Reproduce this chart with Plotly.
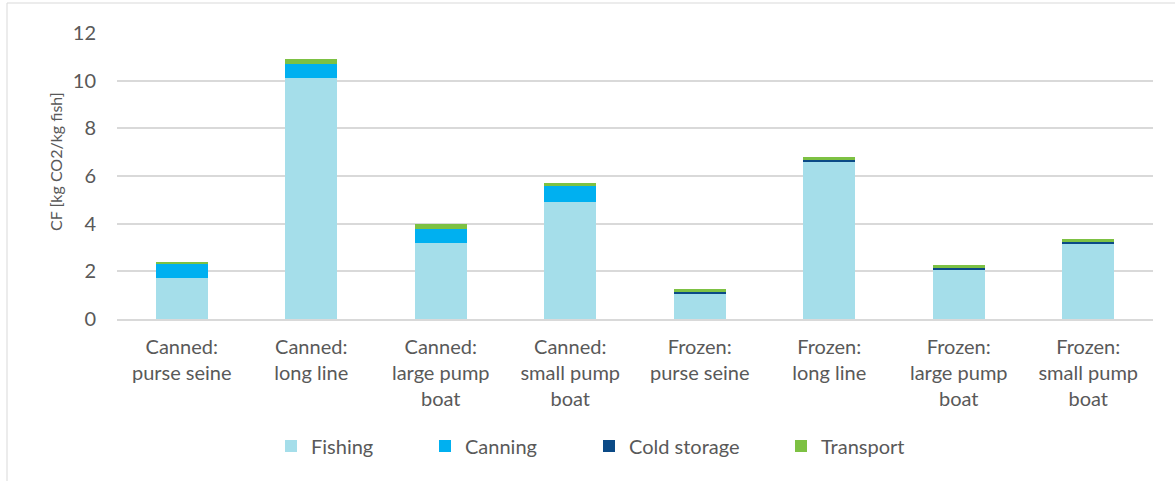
import plotly.graph_objects as go

# Product chains (x categories)
categories = [
    "Canned:<br>purse seine",
    "Canned:<br>long line",
    "Canned:<br>large pump<br>boat",
    "Canned:<br>small pump<br>boat",
    "Frozen:<br>purse seine",
    "Frozen:<br>long line",
    "Frozen:<br>large pump<br>boat",
    "Frozen:<br>small pump<br>boat",
]

# Carbon footprint contributions, kg CO2 per kg fish
fishing = [1.70, 10.10, 3.18, 4.90, 1.09, 6.62, 2.07, 3.18]
canning = [0.64, 0.60, 0.60, 0.68, 0.00, 0.00, 0.00, 0.00]
cold_storage = [0.00, 0.00, 0.00, 0.00, 0.05, 0.05, 0.06, 0.06]
transport = [0.07, 0.20, 0.22, 0.11, 0.11, 0.12, 0.12, 0.12]

y_ticks = [0, 2, 4, 6, 8, 10, 12]

W, H = 1175, 481
FONT = "Lato"
TEXT = "#595959"
GRID = "#D9D9D9"

# name, values, colour, legend id, legend left edge (px)
series = [
    ("Fishing", fishing, "#A5DEEA", "legend", 271),
    ("Canning", canning, "#00B0F0", "legend2", 425),
    ("Cold storage", cold_storage, "#0B4A86", "legend3", 589),
    ("Transport", transport, "#7DC143", "legend4", 781),
]

fig = go.Figure()
for name, vals, color, leg, _ in series:
    fig.add_trace(go.Bar(
        x=categories, y=vals, name=name, legend=leg,
        marker=dict(color=color, line=dict(width=0)),
    ))

layout_legends = {}
for name, vals, color, leg, px in series:
    layout_legends[leg] = dict(
        xref="container", yref="container",
        x=px / W, y=1 - 446 / H,
        xanchor="left", yanchor="middle",
        orientation="h", bgcolor="rgba(0,0,0,0)", borderwidth=0,
        font=dict(family=FONT, size=20, color=TEXT),
    )

fig.update_layout(
    width=W, height=H,
    margin=dict(l=117, r=22, t=33, b=162),
    paper_bgcolor="white", plot_bgcolor="white",
    barmode="stack", bargap=0.6,
    font=dict(family=FONT, size=20, color=TEXT),
    showlegend=True,
    **layout_legends,
)

fig.update_xaxes(
    showgrid=False, showline=True, linecolor=GRID, linewidth=1.5,
    tickfont=dict(family=FONT, size=20, color=TEXT),
    ticks="", ticklabelstandoff=9,
)
fig.update_yaxes(
    range=[0, 12], tickvals=y_ticks, ticktext=[str(v) for v in y_ticks],
    showgrid=True, gridcolor=GRID, gridwidth=1.5,
    zeroline=False, showline=False, ticks="",
    tickfont=dict(family=FONT, size=20, color=TEXT),
    ticklabelstandoff=20,
)

# Axis title
fig.add_annotation(
    text="CF [kg CO2/kg fish]", textangle=-90,
    xref="paper", yref="paper",
    x=(55 - 117) / 1036, y=(319 - 162) / 286,
    xanchor="center", yanchor="middle", showarrow=False,
    font=dict(family=FONT, size=16, color=TEXT),
)

# Chart-area border
fig.add_shape(
    type="rect", xref="paper", yref="paper",
    x0=(7 - 117) / 1036, x1=1.1, y0=-0.7, y1=(319 - 3) / 286,
    line=dict(color=GRID, width=1), fillcolor="rgba(0,0,0,0)",
    layer="below",
)

fig.write_html("out.html")
